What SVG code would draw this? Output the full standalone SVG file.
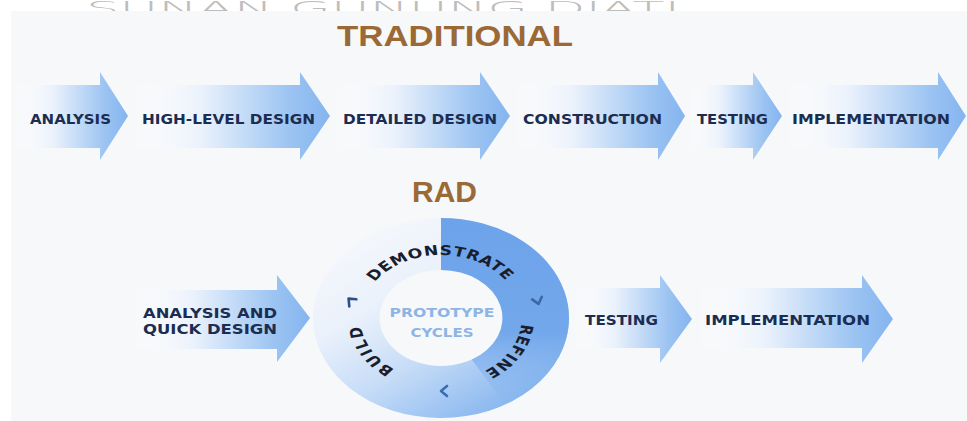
<svg xmlns="http://www.w3.org/2000/svg" width="967" height="421" viewBox="0 0 967 421">
<defs>
<style>
.lbl{font-family:"DejaVu Sans","Liberation Sans",sans-serif;font-weight:bold;font-size:13.5px;fill:#1c2d52}
.head{font-family:"Liberation Sans Narrow","Liberation Sans",sans-serif;font-weight:bold;font-size:30px;fill:#9a6936}
.ring{font-family:"DejaVu Sans","Liberation Sans",sans-serif;font-weight:bold;font-size:13.5px;fill:#1a1d2b}
.ctr{font-family:"DejaVu Sans","Liberation Sans",sans-serif;font-weight:bold;font-size:13px;fill:#8db4e4}
.chev{fill:none;stroke-width:2.6;stroke-linecap:round;stroke-linejoin:round}
</style>
<linearGradient id="arr" x1="0" y1="0" x2="1" y2="0">
<stop offset="0" stop-color="#ffffff" stop-opacity="0"/>
<stop offset="0.35" stop-color="#ebf2fc"/>
<stop offset="0.8" stop-color="#9cc4f2"/>
<stop offset="1" stop-color="#84b4ef"/>
</linearGradient>
<linearGradient id="ringg" gradientUnits="userSpaceOnUse" x1="-70" y1="-80" x2="60" y2="95">
<stop offset="0" stop-color="#f5f7fb"/>
<stop offset="0.3" stop-color="#eaf1fb"/>
<stop offset="0.6" stop-color="#c6dcf7"/>
<stop offset="1" stop-color="#80b2ee"/>
</linearGradient>
<linearGradient id="segg" gradientUnits="userSpaceOnUse" x1="0" y1="-100" x2="0" y2="90">
<stop offset="0" stop-color="#6da3ea"/>
<stop offset="0.6" stop-color="#72a7eb"/>
<stop offset="1" stop-color="#7fb1ee" stop-opacity="0"/>
</linearGradient>
<path id="tp" d="M-63,0 A63,63 0 1 1 63,0 A63,63 0 1 1 -63,0"/>
</defs>
<rect width="967" height="421" fill="#ffffff"/>
<text x="86" y="15" textLength="594" lengthAdjust="spacingAndGlyphs" font-family="'DejaVu Sans',sans-serif" font-weight="200" font-size="20" fill="#bdbdbd">SUNAN GUNUNG DJATI</text>
<rect x="11" y="11" width="956" height="410" fill="#f7f8fa"/>

<g id="title-traditional"><text class="head" x="455" y="46" text-anchor="middle" textLength="236" lengthAdjust="spacingAndGlyphs">TRADITIONAL</text></g>
<g id="title-rad"><text class="head" x="444.5" y="202" text-anchor="middle" textLength="65" lengthAdjust="spacingAndGlyphs" font-size="32">RAD</text></g>

<g id="connectors"></g>

<g id="t-analysis">
<path d="M12,85 L100,85 L100,72 L128,116 L100,160 L100,148 L12,148 Z" fill="url(#arr)"/>
<text class="lbl" x="30" y="124" textLength="81" lengthAdjust="spacingAndGlyphs">ANALYSIS</text>
</g>
<g id="t-high-level-design">
<path d="M130,85 L300,85 L300,72 L330,116 L300,160 L300,148 L130,148 Z" fill="url(#arr)"/>
<text class="lbl" x="142" y="124" textLength="173" lengthAdjust="spacingAndGlyphs">HIGH-LEVEL DESIGN</text>
</g>
<g id="t-detailed-design">
<path d="M332,85 L480,85 L480,72 L510,116 L480,160 L480,148 L332,148 Z" fill="url(#arr)"/>
<text class="lbl" x="343" y="124" textLength="154" lengthAdjust="spacingAndGlyphs">DETAILED DESIGN</text>
</g>
<g id="t-construction">
<path d="M512,85 L658,85 L658,72 L685,116 L658,160 L658,148 L512,148 Z" fill="url(#arr)"/>
<text class="lbl" x="523" y="124" textLength="139" lengthAdjust="spacingAndGlyphs">CONSTRUCTION</text>
</g>
<g id="t-testing">
<path d="M687,85 L753,85 L753,72 L782,116 L753,160 L753,148 L687,148 Z" fill="url(#arr)"/>
<text class="lbl" x="697" y="124" textLength="71" lengthAdjust="spacingAndGlyphs">TESTING</text>
</g>
<g id="t-implementation">
<path d="M784,85 L938,85 L938,72 L966,116 L938,160 L938,148 L784,148 Z" fill="url(#arr)"/>
<text class="lbl" x="792" y="124" textLength="158" lengthAdjust="spacingAndGlyphs">IMPLEMENTATION</text>
</g>

<g id="r-analysis-quick-design">
<path d="M130,290 L277,290 L277,275 L310,318 L277,362 L277,349 L130,349 Z" fill="url(#arr)"/>
<text class="lbl" x="143" y="318" textLength="134" lengthAdjust="spacingAndGlyphs">ANALYSIS AND</text>
<text class="lbl" x="143" y="334" textLength="134" lengthAdjust="spacingAndGlyphs">QUICK DESIGN</text>
</g>

<g id="prototype-cycles">
<g transform="translate(441,318) scale(1.28,1)">
<path d="M-100,0 A100,100 0 1 1 100,0 A100,100 0 1 1 -100,0 Z M-48,0 A48,48 0 1 0 48,0 A48,48 0 1 0 -48,0 Z" fill="url(#ringg)" fill-rule="evenodd"/>
<path d="M0,-100 A100,100 0 0 1 50,86.6 L24,41.6 A48,48 0 0 0 0,-48 Z" fill="url(#segg)"/>
<text class="ring" letter-spacing="0.5"><textPath href="#tp" startOffset="24.8%" text-anchor="middle">DEMONSTRATE</textPath></text>
<text class="ring" letter-spacing="0.5"><textPath href="#tp" startOffset="58.8%" text-anchor="middle">REFINE</textPath></text>
<text class="ring" letter-spacing="1.5"><textPath href="#tp" startOffset="91.5%" text-anchor="middle">BUILD</textPath></text>
</g>
<path class="chev" stroke="#2c4f86" d="M4,-5 L-2,0 L4,5" transform="translate(350,300) rotate(45)"/>
<path class="chev" stroke="#3c68a8" d="M4,-5 L-2,0 L4,5" transform="translate(538,302) rotate(-105)"/>
<path class="chev" stroke="#3b6db5" d="M4,-5 L-2,0 L4,5" transform="translate(443,391)"/>
<text class="ctr" x="442" y="317" text-anchor="middle" textLength="105" lengthAdjust="spacingAndGlyphs">PROTOTYPE</text>
<text class="ctr" x="442" y="337" text-anchor="middle" textLength="63" lengthAdjust="spacingAndGlyphs">CYCLES</text>
</g>

<g id="r-testing">
<path d="M572,288 L660,288 L660,275 L692,319 L660,363 L660,348 L572,348 Z" fill="url(#arr)"/>
<text class="lbl" x="585" y="325" textLength="73" lengthAdjust="spacingAndGlyphs">TESTING</text>
</g>
<g id="r-implementation">
<path d="M696,288 L862,288 L862,275 L893,319 L862,363 L862,348 L696,348 Z" fill="url(#arr)"/>
<text class="lbl" x="705" y="325" textLength="165" lengthAdjust="spacingAndGlyphs">IMPLEMENTATION</text>
</g>
</svg>
